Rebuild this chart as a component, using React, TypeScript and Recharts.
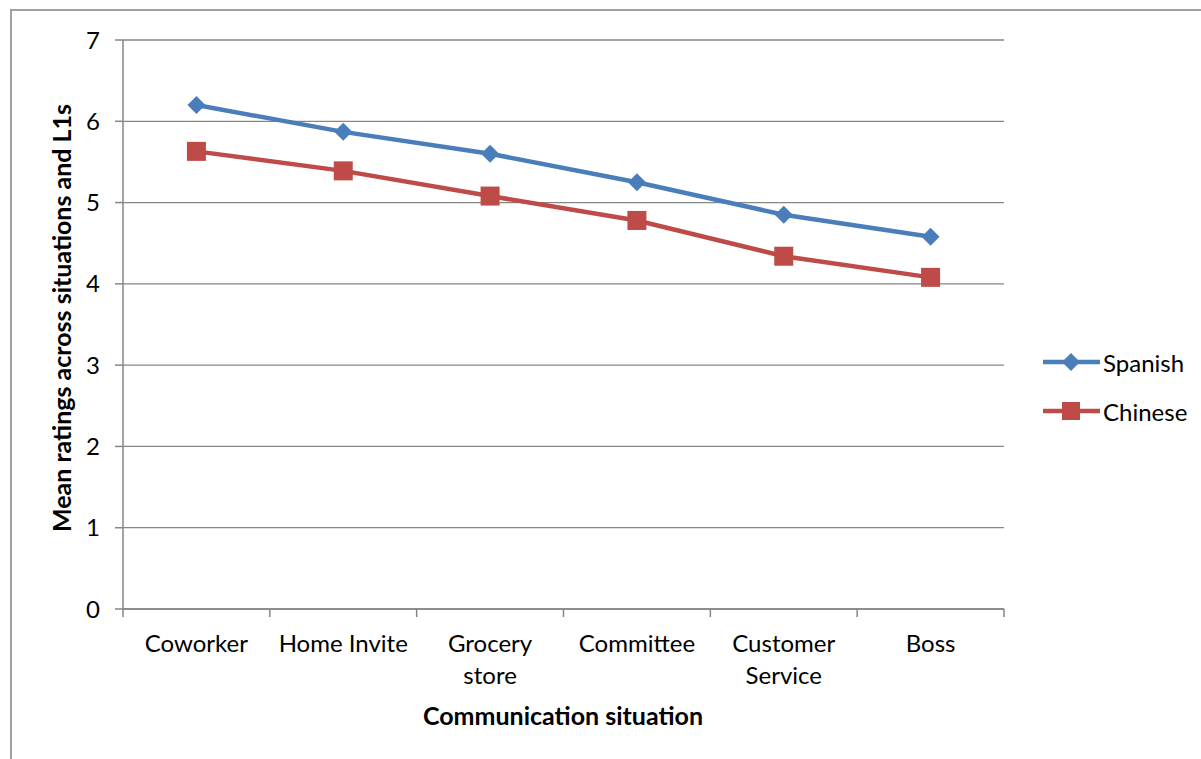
import { CartesianGrid, Legend, Line, LineChart, XAxis, YAxis } from "recharts"

const situations = ["Coworker", "Home Invite", "Grocery\nstore", "Committee", "Customer\nService", "Boss"]
const spanish = [6.2, 5.87, 5.6, 5.25, 4.85, 4.58]
const chinese = [5.63, 5.39, 5.08, 4.78, 4.34, 4.08]
const seriesNames = ["Spanish", "Chinese"]
const yTicks = [0, 1, 2, 3, 4, 5, 6, 7]

const data = situations.map((name, i) => ({ name, Spanish: spanish[i], Chinese: chinese[i] }))

const FONT = "Lato, 'Open Sans', sans-serif"
const BLUE = "#4a7ebb"
const RED = "#be4b48"
const AXIS = "#868686"
const PLOT_W = 881
const BAND = PLOT_W / situations.length
const LEGEND_W = 161

function Diamond({ cx, cy, r = 9, fill }: any) {
  return <polygon points={`${cx},${cy - r} ${cx + r},${cy} ${cx},${cy + r} ${cx - r},${cy}`} fill={fill} />
}

function Square({ cx, cy, s = 19, fill }: any) {
  return <rect x={cx - s / 2} y={cy - s / 2} width={s} height={s} fill={fill} />
}

function CategoryTick({ x, y, payload, index }: any) {
  const lines = String(payload.value).split("\n")
  return (
    <g>
      <line x1={x - BAND / 2} x2={x - BAND / 2} y1={y - 8} y2={y} stroke={AXIS} strokeWidth={1.5} />
      {index === situations.length - 1 && (
        <line x1={x + BAND / 2} x2={x + BAND / 2} y1={y - 8} y2={y} stroke={AXIS} strokeWidth={1.5} />
      )}
      <text x={x} y={y + 35} textAnchor="middle" fontSize={24} fontFamily={FONT} fill="#000">
        {lines.map((l, i) => (
          <tspan key={i} x={x} dy={i === 0 ? 0 : 32}>
            {l}
          </tspan>
        ))}
      </text>
    </g>
  )
}

function LegendBox({ payload }: any) {
  const items = [...(payload || [])].sort(
    (a: any, b: any) => seriesNames.indexOf(a.value) - seriesNames.indexOf(b.value)
  )
  return (
    <svg width={LEGEND_W} height={100} style={{ display: "block" }}>
      {items.map((p: any, i: number) => {
        const cy = 22 + i * 49
        return (
          <g key={p.value}>
            <line x1={3} x2={60} y1={cy} y2={cy} stroke={p.color} strokeWidth={4.5} />
            {p.value === "Spanish" ? (
              <Diamond cx={31} cy={cy} fill={p.color} />
            ) : (
              <Square cx={31} cy={cy} s={18} fill={p.color} />
            )}
            <text x={63} y={cy} dominantBaseline="central" fontSize={24} fontFamily={FONT} fill="#000">
              {p.value}
            </text>
          </g>
        )
      })}
    </svg>
  )
}

export default function App() {
  return (
    <div
      style={{
        position: "absolute",
        left: 0,
        top: 0,
        width: 1201,
        height: 759,
        overflow: "hidden",
        background: "#fff",
      }}
    >
      <div
        style={{
          position: "absolute",
          left: 10,
          top: 9,
          width: 1400,
          height: 1000,
          border: "2px solid #a0a0a0",
        }}
      />
      <div style={{ position: "absolute", left: 0, top: 0 }}>
        <LineChart
          width={1201}
          height={759}
          data={data}
          margin={{ top: 40, right: 197 - LEGEND_W, left: 63, bottom: 120 }}
        >
          <CartesianGrid horizontal vertical={false} stroke={AXIS} strokeWidth={1.3} />
          <XAxis
            dataKey="name"
            scale="band"
            interval={0}
            height={30}
            axisLine={{ stroke: AXIS, strokeWidth: 1.5 }}
            tickLine={false}
            tickSize={8}
            tickMargin={0}
            tick={<CategoryTick />}
          />
          <YAxis
            domain={[0, 7]}
            ticks={yTicks}
            width={60}
            axisLine={{ stroke: AXIS, strokeWidth: 1.5 }}
            tickLine={{ stroke: AXIS, strokeWidth: 1.5 }}
            tickSize={8}
            tickMargin={15}
            tick={{ fontSize: 24, fontFamily: FONT, fill: "#000" }}
          />
          <Legend
            layout="vertical"
            verticalAlign="middle"
            align="right"
            content={<LegendBox />}
            wrapperStyle={{ left: 1040, top: 340, right: "auto", bottom: "auto", width: LEGEND_W, height: 100 }}
          />
          <Line
            dataKey="Spanish"
            stroke={BLUE}
            strokeWidth={4.5}
            isAnimationActive={false}
            dot={(p: any) => <Diamond key={`s${p.index}`} cx={p.cx} cy={p.cy} fill={BLUE} />}
            activeDot={false}
          />
          <Line
            dataKey="Chinese"
            stroke={RED}
            strokeWidth={4.5}
            isAnimationActive={false}
            dot={(p: any) => <Square key={`c${p.index}`} cx={p.cx} cy={p.cy} fill={RED} />}
            activeDot={false}
          />
        </LineChart>
      </div>
      <svg width={1201} height={759} style={{ position: "absolute", left: 0, top: 0, pointerEvents: "none" }}>
        <text
          x={61}
          y={318}
          transform="rotate(-90 61 318)"
          textAnchor="middle"
          dominantBaseline="central"
          fontSize={25}
          fontWeight="bold"
          fontFamily={FONT}
          fill="#000"
        >
          Mean ratings across situations and L1s
        </text>
        <text x={563} y={725} textAnchor="middle" fontSize={25} fontWeight="bold" fontFamily={FONT} fill="#000">
          Communication situation
        </text>
      </svg>
    </div>
  )
}
